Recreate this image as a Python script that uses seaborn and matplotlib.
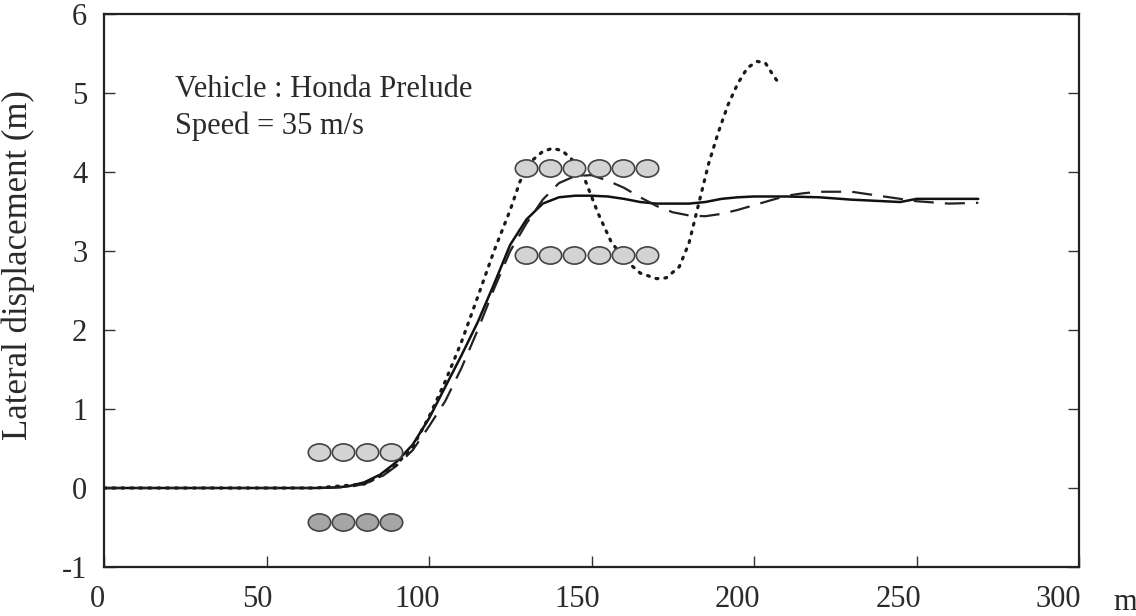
import numpy as np
import pandas as pd
import matplotlib
matplotlib.use("Agg")
import matplotlib.pyplot as plt
import seaborn as sns
from matplotlib.path import Path
from matplotlib.transforms import Affine2D, ScaledTranslation

# ---------------- data ----------------
solid_x = [0, 65, 70, 75, 80, 85, 90, 95, 100, 105, 110, 115, 120, 125, 130, 135, 140, 145,
           150, 155, 160, 165, 170, 175, 180, 185, 190, 195, 200, 210, 220, 230, 240, 245,
           250, 260, 269]
solid_y = [0, 0, 0.005, 0.02, 0.07, 0.17, 0.33, 0.55, 0.88, 1.28, 1.68, 2.1, 2.58, 3.08, 3.4,
           3.6, 3.68, 3.7, 3.7, 3.69, 3.66, 3.62, 3.6, 3.6, 3.6, 3.62, 3.66, 3.68, 3.69,
           3.69, 3.68, 3.65, 3.63, 3.62, 3.66, 3.66, 3.66]

dash_x = [0, 65, 75, 80, 85, 90, 95, 100, 105, 110, 115, 120, 125, 130, 135, 140, 145, 150,
          155, 160, 165, 170, 175, 180, 185, 190, 195, 200, 205, 210, 215, 220, 230, 240,
          250, 260, 269]
dash_y = [0, 0, 0.01, 0.05, 0.13, 0.28, 0.48, 0.78, 1.1, 1.52, 2.0, 2.52, 3.0, 3.35, 3.65,
          3.86, 3.95, 3.96, 3.89, 3.8, 3.68, 3.57, 3.49, 3.45, 3.44, 3.47, 3.52, 3.58, 3.64,
          3.7, 3.73, 3.75, 3.75, 3.69, 3.63, 3.6, 3.61]

dot_x = [0, 65, 80, 85, 90, 95, 100, 105, 110, 115, 120, 125, 128, 131, 135, 138, 141, 145,
         148, 152, 156, 160, 165, 170, 173, 177, 180, 183, 186, 189, 192, 195, 198, 201,
         203.5, 205.5, 208]
dot_y = [0, 0, 0.05, 0.15, 0.3, 0.52, 0.9, 1.35, 1.85, 2.42, 3.0, 3.52, 3.88, 4.12, 4.26,
         4.3, 4.27, 4.12, 3.9, 3.48, 3.12, 2.9, 2.72, 2.65, 2.66, 2.8, 3.1, 3.6, 4.1, 4.5,
         4.85, 5.12, 5.32, 5.4, 5.38, 5.25, 5.1]

# cone positions
cone_entry_x = [66, 73.5, 81, 88.3]
cone_entry_upper_y = [0.45, 0.45, 0.45, 0.45]
cone_entry_lower_y = [-0.43, -0.43, -0.43, -0.43]
cone_exit_x = [129.7, 137.1, 144.6, 152.2, 159.7, 167.1]
cone_exit_upper_y = [4.05] * 6
cone_exit_lower_y = [2.95] * 6

x_ticks = [0, 50, 100, 150, 200, 250, 300]
y_ticks = [-1, 0, 1, 2, 3, 4, 5, 6]
annot_lines = ["Vehicle : Honda Prelude", "Speed = 35 m/s"]
y_label = "Lateral displacement (m)"
x_unit = "m"

# ---------------- style ----------------
sns.set_style("ticks")
plt.rcParams["font.family"] = ["Liberation Serif", "DejaVu Serif"]
plt.rcParams["axes.unicode_minus"] = False
TXT = "#2a2a2a"
FS = 22

fig = plt.figure(figsize=(11.36, 6.16), dpi=100)
ax = fig.add_axes([104 / 1136, 1 - 567 / 616, 975 / 1136, 553 / 616])

sns.lineplot(x=solid_x, y=solid_y, ax=ax, color="#111111", lw=1.8, sort=False,
             estimator=None)
sns.lineplot(x=dash_x, y=dash_y, ax=ax, color="#222222", lw=1.6, sort=False,
             estimator=None, linestyle=(0, (9, 5)))
sns.lineplot(x=dot_x, y=dot_y, ax=ax, color="#1a1a1a", lw=2.3, sort=False,
             estimator=None, linestyle=(0, (0.6, 2.2)), dash_capstyle="round")

ell = Path.unit_circle().transformed(Affine2D().scale(1.3, 1.0))
common = dict(marker=ell, s=260, edgecolor="#444444", linewidth=1.2, zorder=4, legend=False)
sns.scatterplot(x=cone_entry_x, y=cone_entry_upper_y, ax=ax, color="#d3d3d3", **common)
sns.scatterplot(x=cone_entry_x, y=cone_entry_lower_y, ax=ax, color="#a6a6a6", **common)
sns.scatterplot(x=cone_exit_x, y=cone_exit_upper_y, ax=ax, color="#d3d3d3", **common)
sns.scatterplot(x=cone_exit_x, y=cone_exit_lower_y, ax=ax, color="#d3d3d3", **common)

ax.set_xlim(0, 300)
ax.set_ylim(-1, 6)
ax.set_xticks(x_ticks)
ax.set_yticks(y_ticks)
ax.tick_params(axis="both", direction="in", length=8, width=1.0, colors="#333333",
               labelsize=FS, labelcolor=TXT)
ax.tick_params(axis="y", right=True, pad=12)
ax.tick_params(axis="x", pad=13)
for sp in ax.spines.values():
    sp.set_visible(True)
    sp.set_linewidth(1.6)
    sp.set_color("#222222")

for i, lab in enumerate(ax.get_xticklabels()):
    shift = ScaledTranslation(-(7 + 2.3 * i) / 100, 0, fig.dpi_scale_trans)
    lab.set_transform(lab.get_transform() + shift)

ax.set_xlabel("")
ax.set_ylabel(y_label, fontsize=25, color=TXT)
ax.yaxis.set_label_coords(-0.071, 0.546)

ax.text(0.0725, 0.83, "\n".join(annot_lines), transform=ax.transAxes, fontsize=FS,
        color=TXT, va="center", ha="left", linespacing=1.3)
ax.annotate(x_unit, xy=(1.0, 0), xycoords="axes fraction", xytext=(46, -35),
            textcoords="offset pixels", fontsize=FS, color=TXT, ha="center", va="center")

fig.savefig("out.png", dpi=100, facecolor="white")
